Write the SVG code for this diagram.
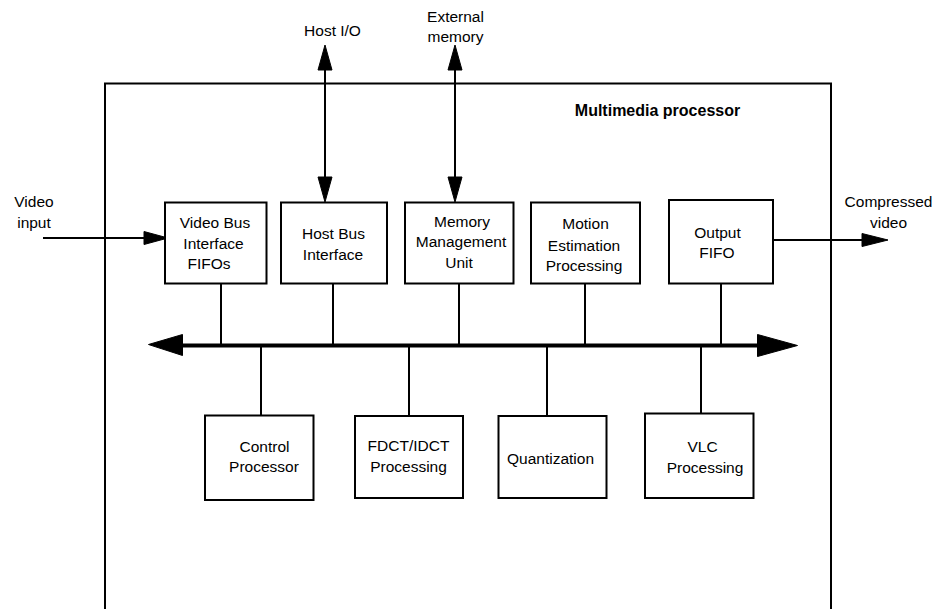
<svg xmlns="http://www.w3.org/2000/svg" width="935" height="609" viewBox="0 0 935 609">
<style>
  .box { fill: #fff; stroke: #000; stroke-width: 2; }
  .ln { fill: none; stroke: #000; stroke-width: 2; }
  .bus { fill: none; stroke: #000; stroke-width: 4; }
  .ah { fill: #000; stroke: #000; stroke-width: 1; stroke-linejoin: round; }
  text { font-family: "Liberation Sans", Arial, sans-serif; font-size: 15.5px; fill: #000; text-anchor: middle; }
  .bold { font-weight: bold; font-size: 16px; }
</style>
<rect width="935" height="609" fill="#fff"/>

<g id="multimedia-processor">
  <path class="ln" d="M105,615 V83.5 H831 V615"/>
  <text class="bold" x="657.5" y="115.5">Multimedia processor</text>
</g>

<g id="connectors">
  <!-- Host I/O -->
  <line class="ln" x1="325" y1="66" x2="325" y2="181"/>
  <polygon class="ah" points="325,45 318,70 332,70"/>
  <polygon class="ah" points="325,202 318,177 332,177"/>
  <!-- External memory -->
  <line class="ln" x1="455" y1="66" x2="455" y2="181"/>
  <polygon class="ah" points="455,45 448,70 462,70"/>
  <polygon class="ah" points="455,202 448,177 462,177"/>
  <!-- Video input -->
  <line class="ln" x1="43" y1="238" x2="148" y2="238"/>
  <polygon class="ah" points="144,231.5 168,238 144,244.5"/>
  <!-- Compressed video -->
  <line class="ln" x1="773" y1="240" x2="866" y2="240"/>
  <polygon class="ah" points="862,233.5 888,240 862,246.5"/>
  <!-- Bus -->
  <line class="bus" x1="178" y1="345.5" x2="762" y2="345.5"/>
  <polygon class="ah" points="148.5,344.5 182.5,334.5 182.5,355.5"/>
  <polygon class="ah" points="797.5,345.5 757.5,334.5 757.5,356.5"/>
  <!-- stubs above bus -->
  <line class="ln" x1="221" y1="283" x2="221" y2="345"/>
  <line class="ln" x1="333" y1="283" x2="333" y2="345"/>
  <line class="ln" x1="459" y1="283" x2="459" y2="345"/>
  <line class="ln" x1="585" y1="283" x2="585" y2="345"/>
  <line class="ln" x1="721" y1="283" x2="721" y2="345"/>
  <!-- stubs below bus -->
  <line class="ln" x1="261" y1="346" x2="261" y2="415"/>
  <line class="ln" x1="409" y1="346" x2="409" y2="416"/>
  <line class="ln" x1="547" y1="346" x2="547" y2="416"/>
  <line class="ln" x1="701" y1="346" x2="701" y2="414"/>
</g>

<g id="label-host-io"><text x="332.5" y="36">Host I/O</text></g>
<g id="label-external-memory"><text x="455.5" y="21.5">External</text><text x="455.5" y="41.5">memory</text></g>
<g id="label-video-input"><text x="34" y="206.5">Video</text><text x="34" y="227.5">input</text></g>
<g id="label-compressed-video"><text x="888.5" y="207">Compressed</text><text x="888.5" y="227.5">video</text></g>

<g id="video-bus-interface">
  <rect class="box" x="165" y="202.5" width="101.5" height="81"/>
  <text x="215" y="227.5">Video Bus</text>
  <text x="213.5" y="249">Interface</text>
  <text x="209" y="269">FIFOs</text>
</g>
<g id="host-bus-interface">
  <rect class="box" x="281" y="202.5" width="106" height="81"/>
  <text x="333.5" y="239">Host Bus</text>
  <text x="333" y="259.5">Interface</text>
</g>
<g id="memory-management-unit">
  <rect class="box" x="405" y="202.5" width="108.5" height="81"/>
  <text x="462" y="227">Memory</text>
  <text x="461" y="246.5">Management</text>
  <text x="459" y="267.5">Unit</text>
</g>
<g id="motion-estimation">
  <rect class="box" x="531" y="202.5" width="109" height="81"/>
  <text x="585.5" y="229">Motion</text>
  <text x="584" y="250.5">Estimation</text>
  <text x="584" y="270.5">Processing</text>
</g>
<g id="output-fifo">
  <rect class="box" x="669" y="200" width="104" height="83.5"/>
  <text x="717.5" y="238">Output</text>
  <text x="717" y="258">FIFO</text>
</g>

<g id="control-processor">
  <rect class="box" x="205" y="415.5" width="108.5" height="84.5"/>
  <text x="264.5" y="452">Control</text>
  <text x="264" y="472">Processor</text>
</g>
<g id="fdct-idct">
  <rect class="box" x="355" y="416" width="108" height="82"/>
  <text x="408.5" y="450.5">FDCT/IDCT</text>
  <text x="408.5" y="471.5">Processing</text>
</g>
<g id="quantization">
  <rect class="box" x="498.5" y="416" width="108" height="82"/>
  <text x="550.5" y="464">Quantization</text>
</g>
<g id="vlc-processing">
  <rect class="box" x="645" y="413.5" width="108.5" height="84.5"/>
  <text x="702.5" y="452">VLC</text>
  <text x="705" y="473">Processing</text>
</g>
</svg>
